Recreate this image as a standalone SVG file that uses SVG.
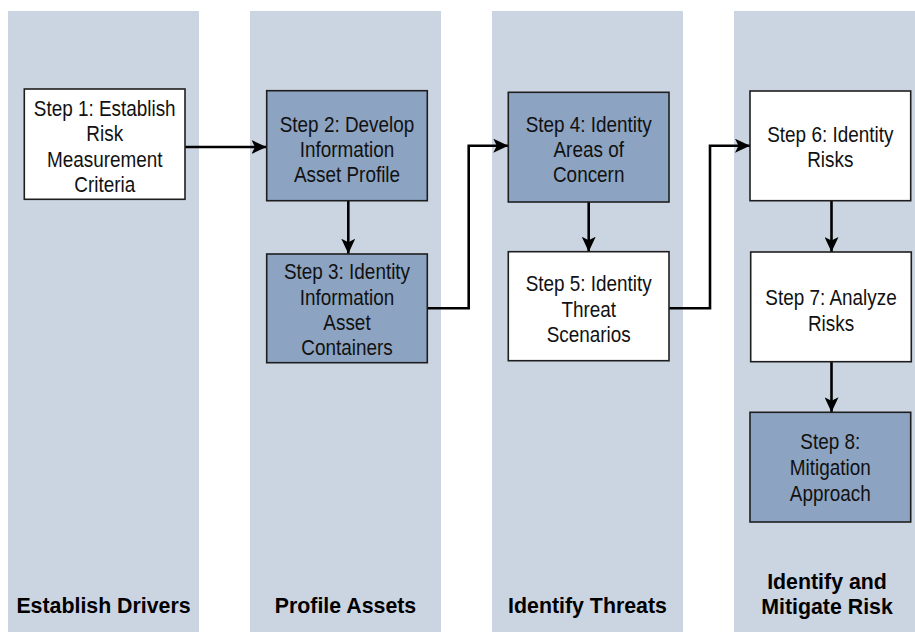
<svg xmlns="http://www.w3.org/2000/svg" width="915" height="632" viewBox="0 0 915 632">
<defs>
<style>
.lane{fill:#cbd4e1}
.box{stroke:#1e1e1e;stroke-width:1.6}
.light{fill:#ffffff}
.dark{fill:#8ca3c1}
.t{font-family:"Liberation Sans",Arial,Helvetica,sans-serif;font-size:22px;text-anchor:middle;fill:#111}
.lbl{font-family:"Liberation Sans",Arial,Helvetica,sans-serif;font-size:22px;font-weight:bold;text-anchor:middle;fill:#000}
.con{fill:none;stroke:#000;stroke-width:2.6;marker-end:url(#ah)}
</style>
<marker id="ah" markerUnits="userSpaceOnUse" markerWidth="16" markerHeight="14" refX="15" refY="7" orient="auto">
<path d="M0,0 L15,7 L0,14 L3.5,7 Z" fill="#000"/>
</marker>
</defs>
<rect width="915" height="632" fill="#ffffff"/>
<g id="lanes">
<rect class="lane" x="8" y="11" width="191" height="621"/>
<rect class="lane" x="250" y="11" width="191" height="621"/>
<rect class="lane" x="492" y="11" width="191" height="621"/>
<rect class="lane" x="734" y="11" width="191" height="621"/>
</g>
<g id="lane-labels">
<g transform="translate(103.5 0) scale(0.97 1)"><text class="lbl" x="0" y="613">Establish Drivers</text></g>
<g transform="translate(345.5 0) scale(0.97 1)"><text class="lbl" x="0" y="613">Profile Assets</text></g>
<g transform="translate(587.5 0) scale(0.97 1)"><text class="lbl" x="0" y="613">Identify Threats</text></g>
<g transform="translate(827 0) scale(0.97 1)"><text class="lbl"><tspan x="0" y="589">Identify and</tspan><tspan x="0" y="614">Mitigate Risk</tspan></text></g>
</g>
<g id="connectors">
<path class="con" d="M185,147 L266.5,147"/>
<path class="con" d="M348.3,200.7 L348.3,253.7"/>
<path class="con" d="M427.3,308.3 L468.7,308.3 L468.7,145.7 L508.3,145.7"/>
<path class="con" d="M588.7,202 L588.7,251.7"/>
<path class="con" d="M669,308.3 L710,308.3 L710,145.7 L750,145.7"/>
<path class="con" d="M831.5,200.7 L831.5,252"/>
<path class="con" d="M831.5,361.7 L831.5,412.3"/>
</g>
<g id="step1">
<rect class="box light" x="24.3" y="89" width="160.7" height="110.3"/>
<g transform="translate(104.7 0) scale(0.86 1)"><text class="t"><tspan x="0" y="115.7">Step 1: Establish</tspan><tspan x="0" y="141.3">Risk</tspan><tspan x="0" y="166.9">Measurement</tspan><tspan x="0" y="192.3">Criteria</tspan></text></g>
</g>
<g id="step2">
<rect class="box dark" x="266.7" y="90.7" width="160.6" height="110"/>
<g transform="translate(347 0) scale(0.86 1)"><text class="t"><tspan x="0" y="131.7">Step 2: Develop</tspan><tspan x="0" y="157">Information</tspan><tspan x="0" y="182.4">Asset Profile</tspan></text></g>
</g>
<g id="step3">
<rect class="box dark" x="266.7" y="254" width="160.6" height="108.7"/>
<g transform="translate(347 0) scale(0.86 1)"><text class="t"><tspan x="0" y="279.3">Step 3: Identity</tspan><tspan x="0" y="304.6">Information</tspan><tspan x="0" y="330">Asset</tspan><tspan x="0" y="355.2">Containers</tspan></text></g>
</g>
<g id="step4">
<rect class="box dark" x="508.3" y="92.3" width="160.7" height="109.7"/>
<g transform="translate(588.7 0) scale(0.86 1)"><text class="t"><tspan x="0" y="131.7">Step 4: Identity</tspan><tspan x="0" y="157">Areas of</tspan><tspan x="0" y="182.5">Concern</tspan></text></g>
</g>
<g id="step5">
<rect class="box light" x="508.3" y="251.7" width="160.7" height="109"/>
<g transform="translate(588.7 0) scale(0.86 1)"><text class="t"><tspan x="0" y="291">Step 5: Identity</tspan><tspan x="0" y="316.7">Threat</tspan><tspan x="0" y="342.3">Scenarios</tspan></text></g>
</g>
<g id="step6">
<rect class="box light" x="750" y="91" width="160.7" height="109.7"/>
<g transform="translate(830.3 0) scale(0.86 1)"><text class="t"><tspan x="0" y="141.7">Step 6: Identity</tspan><tspan x="0" y="167.3">Risks</tspan></text></g>
</g>
<g id="step7">
<rect class="box light" x="750.7" y="252" width="160.6" height="109.7"/>
<g transform="translate(831 0) scale(0.86 1)"><text class="t"><tspan x="0" y="305">Step 7: Analyze</tspan><tspan x="0" y="330.7">Risks</tspan></text></g>
</g>
<g id="step8">
<rect class="box dark" x="750" y="412.3" width="160.7" height="109.7"/>
<g transform="translate(830.3 0) scale(0.86 1)"><text class="t"><tspan x="0" y="449.3">Step 8:</tspan><tspan x="0" y="475.3">Mitigation</tspan><tspan x="0" y="500.7">Approach</tspan></text></g>
</g>
</svg>
